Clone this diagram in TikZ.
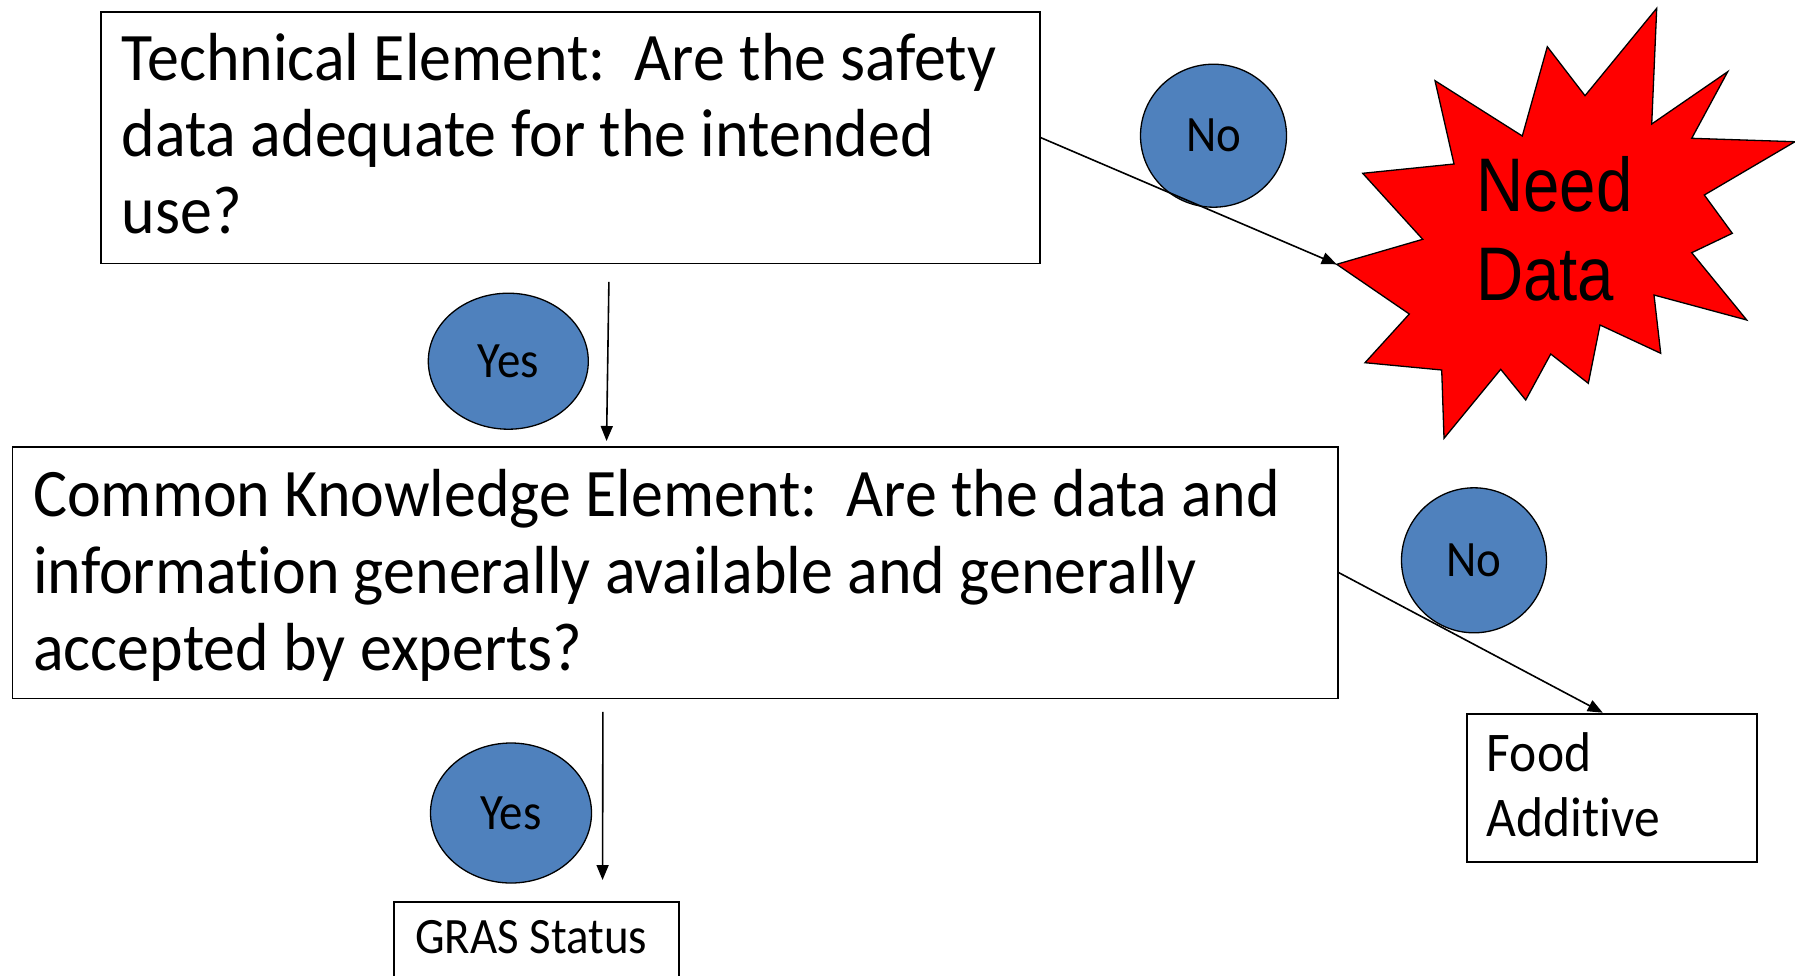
\documentclass[tikz,border=0pt]{standalone}
\usepackage{fontspec}
\setmainfont{Carlito}[Ligatures=NoCommon]
\newfontfamily\burstfont{Liberation Sans}
\usetikzlibrary{arrows.meta,shapes.geometric}
\definecolor{bubblecol}{RGB}{79,129,189}
\definecolor{burstcol}{RGB}{255,0,0}
\begin{document}
\begin{tikzpicture}[x=1pt,y=-1pt,
  boxshape/.style={draw=black, line width=1.8pt, rectangle, inner sep=0pt, anchor=north west},
  bubble/.style={ellipse, draw=black, line width=1.3pt, fill=bubblecol, inner sep=0pt,
                 font=\fontsize{51}{60}\selectfont},
  txt/.style={anchor=base west, inner sep=0pt},
  conn/.style={line width=1.6pt, -{Triangle[length=15pt,width=12pt]}}]
\useasboundingbox (0,0) rectangle (1795,975);

% boxes
\node[boxshape, minimum width=939pt, minimum height=251.5pt] (box1) at (100,11) {};
\node[boxshape, minimum width=1325.5pt, minimum height=251.5pt] (box2) at (11.5,446) {};
\node[boxshape, minimum width=290.3pt, minimum height=148.3pt] (food) at (1465.7,712.7) {};
\node[boxshape, minimum width=284.7pt, minimum height=120pt] (gras) at (393,901) {};

% box texts
\node[txt] (box1text) at (121.5,80) {\scalebox{0.94}[1]{\vtop{\fontsize{68}{76.5}\selectfont
  \hbox{Technical Element:\ \ Are the safety}\hbox{data adequate for the intended}\hbox{use?}}}};
\node[txt] (box2text) at (33,516.5) {\scalebox{0.94}[1]{\vtop{\fontsize{68}{77}\selectfont
  \hbox{Common Knowledge Element:\ \ Are the data and}\hbox{information generally available and generally}\hbox{accepted by experts?}}}};
\node[txt] (foodtext) at (1486.7,771.7) {\scalebox{0.92}[1]{\vtop{\fontsize{56}{65}\selectfont
  \hbox{Food}\hbox{Additive}}}};
\node[txt] (grastext) at (415,953.3) {\scalebox{0.92}[1]{\fontsize{51}{60}\selectfont GRAS Status}};

% starburst
\filldraw[fill=burstcol, draw=black, line width=1.3pt]
  (1656.7,8.3) -- (1651.7,124) -- (1727.7,71.7) -- (1691.7,138.3) -- (1795,141.7)
  -- (1704.3,195) -- (1732.3,233.3) -- (1691.7,252.7) -- (1746.7,320) -- (1654,295)
  -- (1660.7,353.3) -- (1600,325) -- (1588.3,383.3) -- (1550.7,354) -- (1525.7,400)
  -- (1500.7,369.3) -- (1444,438.3) -- (1441.7,370) -- (1365,362.7) -- (1409.3,314)
  -- (1336.7,264.3) -- (1422.7,239.3) -- (1362.7,173.3) -- (1454,164) -- (1435,80.7)
  -- (1522.3,136) -- (1547.3,46.7) -- (1585,95.7) -- cycle;
\coordinate (bursttip) at (1336.7,264.3);
\node[txt] (bursttext) at (1476,211) {\scalebox{0.86}[1]{\vtop{\burstfont\fontsize{76}{89}\selectfont
  \hbox{Need}\hbox{Data}}}};

% bubbles
\node[bubble, minimum width=146pt, minimum height=143pt] (no1) at (1213.5,135.7) {\scalebox{0.92}[1]{No}};
\node[bubble, minimum width=160pt, minimum height=136pt] (yes1) at (508.3,361.2) {\scalebox{0.92}[1]{Yes}};
\node[bubble, minimum width=145pt, minimum height=145pt] (no2) at (1474,560.3) {\scalebox{0.92}[1]{No}};
\node[bubble, minimum width=161pt, minimum height=140pt] (yes2) at (511,813) {\scalebox{0.92}[1]{Yes}};

% connectors
\draw[conn] (box1.east) -- (bursttip);
\draw[conn] ([xshift=38.5pt,yshift=-17.5pt]box1.south) -- ([xshift=-68.6pt,yshift=5pt]box2.north);
\draw[conn] (box2.east) -- ([xshift=-9pt]food.north);
\draw[conn] ([xshift=-72.25pt,yshift=-12.5pt]box2.south) -- ([xshift=66.3pt,yshift=21pt]gras.north);
\end{tikzpicture}
\end{document}
